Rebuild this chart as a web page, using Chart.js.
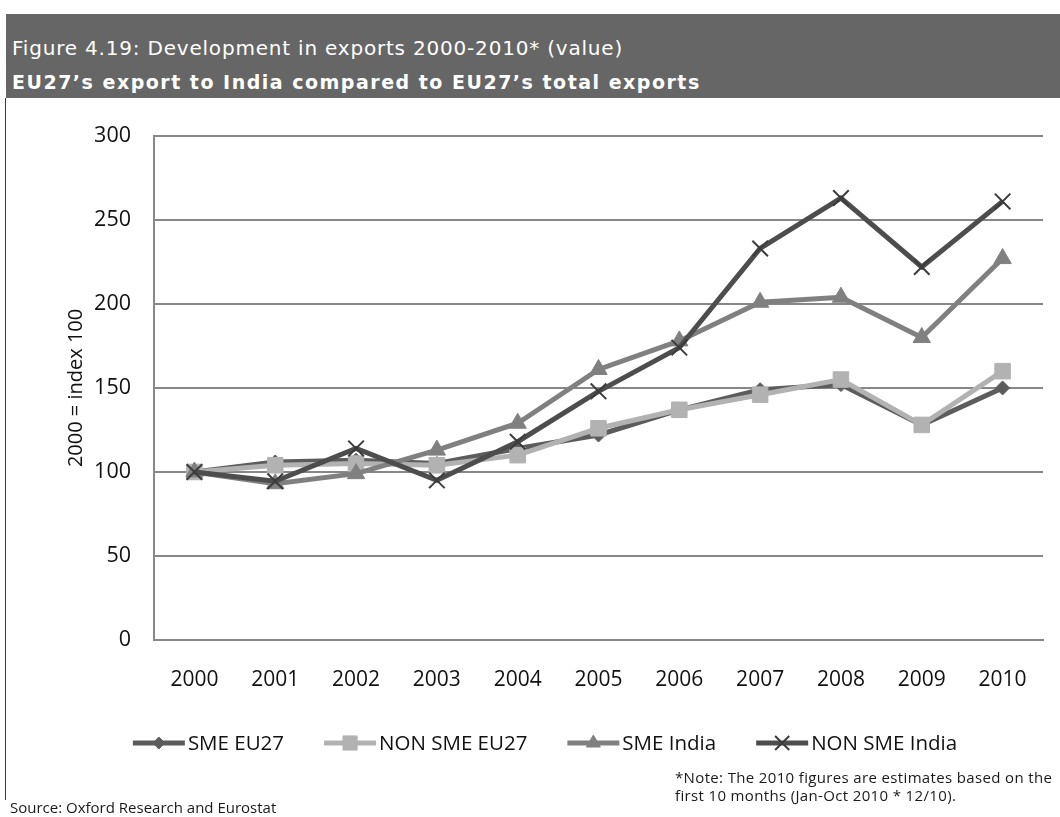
<!DOCTYPE html>
<html><head><meta charset="utf-8">
<script src="https://cdn.jsdelivr.net/npm/chart.js@4.4.0/dist/chart.umd.min.js"></script>
<style>
html,body{margin:0;padding:0;background:#fff;}
body{width:1060px;height:817px;position:relative;overflow:hidden;font-family:"Open Sans",sans-serif;}
#hdr{position:absolute;left:6px;top:14px;width:1054px;height:84px;background:#666666;}
.ht{position:absolute;left:12px;color:#fff;font-family:"DejaVu Sans",sans-serif;white-space:nowrap;}
#t1{top:36px;font-size:20px;line-height:24px;letter-spacing:0.8px;}
#t2{top:71px;font-size:19px;line-height:22px;font-weight:bold;letter-spacing:1.5px;}
#lb{position:absolute;left:5px;top:98px;width:1px;height:702px;background:#3a3a3a;}
#cv{position:absolute;left:0;top:100px;}
.note{position:absolute;white-space:nowrap;color:#1a1a1a;font-family:"Open Sans",sans-serif;}
#n1{left:675px;top:768px;font-size:15px;line-height:18px;letter-spacing:0.35px;}
#src{left:10px;top:798px;font-size:15px;line-height:18px;}
</style></head>
<body>
<div id="hdr"></div>
<div id="t1" class="ht">Figure 4.19: Development in exports 2000-2010* (value)</div>
<div id="t2" class="ht">EU27’s export to India compared to EU27’s total exports</div>
<div id="lb"></div>
<canvas id="cv" width="1060" height="700"></canvas>
<div id="n1" class="note">*Note: The 2010 figures are estimates based on the<br>first 10 months (Jan-Oct 2010 * 12/10).</div>
<div id="src" class="note">Source: Oxford Research and Eurostat</div>
<script>
const years = ['2000','2001','2002','2003','2004','2005','2006','2007','2008','2009','2010'];
const smeEU27 = [100, 106, 107, 105, 114, 122, 137, 149, 152, 128, 150];
const nonSmeEU27 = [100, 104, 105, 104, 110, 126, 137, 146, 155, 128, 160];
const smeIndia = [100, 93, 99, 113, 129, 161, 178, 201, 204, 180, 227];
const nonSmeIndia = [100, 94.5, 114, 95, 118, 148, 174, 233, 263, 222, 261];
const seriesNames = ['SME EU27', 'NON SME EU27', 'SME India', 'NON SME India'];
const yTitle = '2000 = index 100';

const FONT = '"Open Sans", sans-serif';

function drawMarker(ctx, style, r, x, y, color, bw) {
  ctx.save();
  ctx.fillStyle = color; ctx.strokeStyle = color; ctx.lineWidth = bw;
  ctx.beginPath();
  if (style === 'rectRot') {
    ctx.moveTo(x, y - r); ctx.lineTo(x + r, y); ctx.lineTo(x, y + r); ctx.lineTo(x - r, y); ctx.closePath();
    ctx.fill(); ctx.stroke();
  } else if (style === 'rect') {
    const s = r * Math.SQRT1_2;
    ctx.rect(x - s, y - s, 2 * s, 2 * s); ctx.fill(); ctx.stroke();
  } else if (style === 'triangle') {
    ctx.moveTo(x, y - r);
    ctx.lineTo(x + r * Math.sin(2 * Math.PI / 3), y - r * Math.cos(2 * Math.PI / 3));
    ctx.lineTo(x + r * Math.sin(4 * Math.PI / 3), y - r * Math.cos(4 * Math.PI / 3));
    ctx.closePath(); ctx.fill(); ctx.stroke();
  } else if (style === 'crossRot') {
    const d = r * Math.SQRT1_2;
    ctx.moveTo(x - d, y - d); ctx.lineTo(x + d, y + d);
    ctx.moveTo(x - d, y + d); ctx.lineTo(x + d, y - d);
    ctx.stroke();
  }
  ctx.restore();
}

const legendPlugin = {
  id: 'customLegend',
  afterDraw(chart) {
    const ctx = chart.ctx;
    const ds = chart.data.datasets;
    const iconW = 52, gapT = 3, gapI = 40;
    ctx.save();
    ctx.font = '20.5px ' + FONT;
    const widths = ds.map(d => ctx.measureText(d.label).width);
    let total = 0;
    widths.forEach((w, i) => { total += iconW + gapT + w + (i < widths.length - 1 ? gapI : 0); });
    let x = 545 - total / 2;
    const y = 643;
    ds.forEach((d, i) => {
      ctx.strokeStyle = d.borderColor; ctx.lineWidth = d.borderWidth;
      ctx.beginPath(); ctx.moveTo(x, y); ctx.lineTo(x + iconW, y); ctx.stroke();
      const r = d.legendRadius || d.pointRadius;
      drawMarker(ctx, d.pointStyle, r, x + iconW / 2, y, d.pointBackgroundColor, d.pointBorderWidth);
      ctx.fillStyle = '#111'; ctx.textAlign = 'left'; ctx.textBaseline = 'middle';
      ctx.fillText(d.label, x + iconW + gapT, y + 1);
      x += iconW + gapT + widths[i] + gapI;
    });
    ctx.restore();
  }
};

new Chart(document.getElementById('cv'), {
  type: 'line',
  data: {
    labels: years,
    datasets: [
      { label: seriesNames[0], data: smeEU27, borderColor: '#5c5c5c', backgroundColor: '#5c5c5c',
        pointStyle: 'rectRot', pointRadius: 7, legendRadius: 6, pointBackgroundColor: '#5c5c5c', pointBorderColor: '#5c5c5c', pointBorderWidth: 1,
        borderWidth: 5, order: 4 },
      { label: seriesNames[1], data: nonSmeEU27, borderColor: '#b2b2b2', backgroundColor: '#b2b2b2',
        pointStyle: 'rect', pointRadius: 11, legendRadius: 10, pointBackgroundColor: '#b2b2b2', pointBorderColor: '#b2b2b2', pointBorderWidth: 1,
        borderWidth: 5, order: 3 },
      { label: seriesNames[2], data: smeIndia, borderColor: '#808080', backgroundColor: '#808080',
        pointStyle: 'triangle', pointRadius: 10, legendRadius: 8, pointBackgroundColor: '#808080', pointBorderColor: '#808080', pointBorderWidth: 1,
        borderWidth: 5, order: 2 },
      { label: seriesNames[3], data: nonSmeIndia, borderColor: '#4d4d4d', backgroundColor: '#4d4d4d',
        pointStyle: 'crossRot', pointRadius: 11, legendRadius: 10, pointBackgroundColor: '#3c3c3c', pointBorderColor: '#3c3c3c', pointBorderWidth: 2,
        borderWidth: 5, order: 1 }
    ]
  },
  options: {
    responsive: false,
    animation: false,
    devicePixelRatio: 1,
    layout: { padding: { left: 60, top: 31.7, right: 17, bottom: 0 } },
    elements: { line: { tension: 0 } },
    plugins: { legend: { display: false }, tooltip: { enabled: false }, title: { display: false } },
    scales: {
      x: {
        offset: true,
        grid: { display: false, drawTicks: false },
        border: { display: true, color: '#878787', width: 2 },
        ticks: { padding: 27, color: '#111', font: { family: FONT, size: 21 }, maxRotation: 0 },
        afterFit(s) { s.height = 160; }
      },
      y: {
        min: 0, max: 300,
        grid: { color: '#878787', lineWidth: 2, drawTicks: false },
        border: { display: true, color: '#878787', width: 2 },
        ticks: { stepSize: 50, padding: 23, color: '#111', font: { family: FONT, size: 21.5 } },
        title: { display: true, text: yTitle, color: '#111', font: { family: FONT, size: 20 }, padding: { top: 4, bottom: 4 } },
        afterFit(s) { s.width = 94; }
      }
    }
  },
  plugins: [legendPlugin]
});
</script>
</body></html>
